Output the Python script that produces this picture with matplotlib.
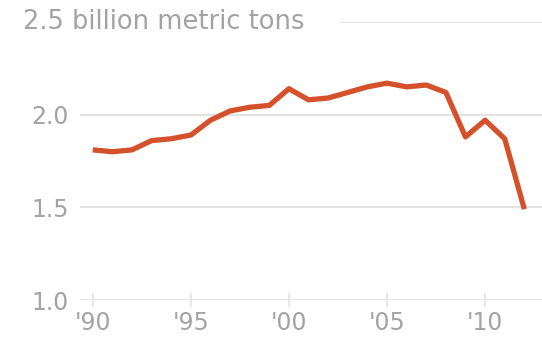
import matplotlib.pyplot as plt
import matplotlib.transforms as mtransforms

years = list(range(1990, 2013))
emissions = [1.81, 1.80, 1.81, 1.86, 1.87, 1.89, 1.97, 2.02, 2.04, 2.05,
             2.14, 2.08, 2.09, 2.12, 2.15, 2.17, 2.15, 2.16, 2.12, 1.88,
             1.97, 1.87, 1.49]
ytick_vals = [1.0, 1.5, 2.0]
ytick_labels = ['1.0', '1.5', '2.0']
xtick_vals = [1990, 1995, 2000, 2005, 2010]
xtick_labels = ["'90", "'95", "'00", "'05", "'10"]

grey = '#a3a3a3'
grid_c = '#e3e3e3'

fig = plt.figure(figsize=(5.42, 3.42), dpi=100)
ax = fig.add_axes([80 / 542, 42 / 342, 462 / 542, 278 / 342])

for v in ytick_vals:
    ax.axhline(v, color=grid_c, lw=1.5, zorder=1)
ax.axhline(2.5, xmin=0.565, xmax=1.0, color=grid_c, lw=1.5, zorder=1)

ax.plot(years, emissions, color='#d4512b', lw=3.8, solid_capstyle='butt',
        solid_joinstyle='round', zorder=3)

ax.set_xlim(1989.35, 2012.9)
ax.set_ylim(1.0, 2.5)

ax.set_yticks(ytick_vals)
ax.set_yticklabels(ytick_labels)
ax.set_xticks(xtick_vals)
ax.set_xticklabels(xtick_labels)
ax.tick_params(axis='y', length=0, pad=8, labelsize=17, labelcolor=grey)
ax.tick_params(axis='x', length=10, width=1.2, color=grid_c, direction='inout',
               pad=3, labelsize=17, labelcolor=grey)

trans = mtransforms.blended_transform_factory(ax.transAxes, ax.transData)
ax.text(-57 / 462, 2.5, '2.5 billion metric tons', transform=trans,
        ha='left', va='center', fontsize=18.5, color=grey)

for s in ax.spines.values():
    s.set_visible(False)
ax.set_facecolor('white')

fig.savefig('out.png', dpi=100)
